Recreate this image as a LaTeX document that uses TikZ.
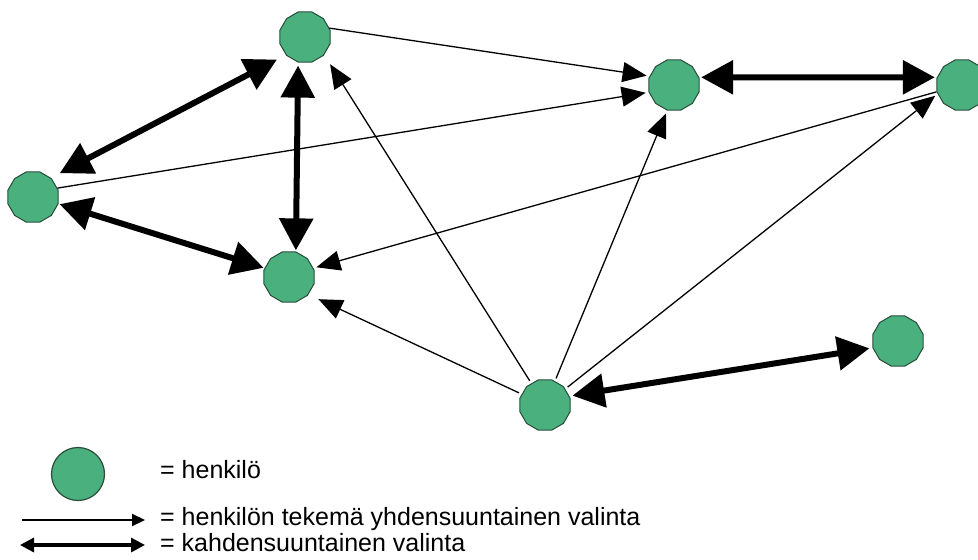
\documentclass[tikz,border=0pt]{standalone}
\usepackage{fontspec}
\setmainfont{Liberation Sans}
\usetikzlibrary{arrows.meta,shapes.geometric}
\definecolor{nodefill}{RGB}{74,176,125}
\definecolor{nodeline}{RGB}{40,78,58}
\begin{document}
\begin{tikzpicture}[x=1pt,y=-1pt,
  person/.style={regular polygon, regular polygon sides=12, minimum size=52pt, inner sep=0pt,
    fill=nodefill, draw=nodeline, line width=1pt},
  legendperson/.style={circle, minimum size=53pt, inner sep=0pt,
    fill=nodefill, draw=nodeline, line width=1.2pt},
  oneway/.style={draw=black, line width=1.3pt, -{Triangle[length=24pt,width=20pt]}},
  twoway/.style={draw=black, line width=6pt,
    {Triangle[length=32pt,width=33pt]}-{Triangle[length=32pt,width=33pt]}},
  legone/.style={draw=black, line width=2.2pt, -{Triangle[length=13pt,width=12pt]}},
  legtwo/.style={draw=black, line width=3.2pt,
    {Triangle[length=14pt,width=14pt]}-{Triangle[length=14pt,width=14pt]}},
  legtext/.style={anchor=base west, inner sep=0pt, font=\fontsize{25pt}{27pt}\selectfont}
]
\useasboundingbox (0,0) rectangle (978,560);
\fill[white] (0,0) rectangle (978,560);

% persons
\node[person] (A) at (305,37) {};
\node[person] (B) at (33,197) {};
\node[person] (C) at (289,277) {};
\node[person] (D) at (674,85) {};
\node[person] (E) at (962,85) {};
\node[person] (F) at (545,405) {};
\node[person] (G) at (898,341) {};

% one-way choices
\draw[oneway, shorten >=3pt] (A.20) -- (D.160);
\draw[oneway, shorten >=3pt] (B.20) -- (D.196);
\draw[oneway, shorten <=3pt, shorten >=11pt] (F) -- (A.-43);
\draw[oneway, shorten <=3pt, shorten >=11pt] (F) -- (C.-42);
\draw[oneway, shorten <=3pt, shorten >=3pt] (F) -- (D.-105);
\draw[oneway, shorten <=3pt, shorten >=3pt] (F) -- (E.200);
\draw[oneway, shorten >=3pt] (E.195) -- (C.20);

% two-way choices
\draw[twoway, shorten <=10pt, shorten >=10pt] (A.223) -- (B.47);
\draw[twoway, shorten <=3pt, shorten >=1pt] (A.255) -- (C.75);
\draw[twoway, shorten <=1pt, shorten >=1pt] (B.-15) -- (C.160);
\draw[twoway, shorten <=2pt, shorten >=2pt] (D.17) -- (E.163);
\draw[twoway, shorten <=3pt, shorten >=3pt] (F.20) -- (G.195);

% legend
\node[legendperson] (L) at (78,474) {};
\coordinate (l1s) at (22,520);
\coordinate (l1e) at (145,520);
\coordinate (l2s) at (20,545);
\coordinate (l2e) at (145,545);
\draw[legone] (l1s) -- (l1e);
\draw[legtwo] (l2s) -- (l2e);
\node[legtext] (t1) at (160,478) {= henkilö};
\node[legtext] (t2) at (160,525) {= henkilön tekemä yhdensuuntainen valinta};
\node[legtext] (t3) at (160,551) {= kahdensuuntainen valinta};
\end{tikzpicture}
\end{document}
